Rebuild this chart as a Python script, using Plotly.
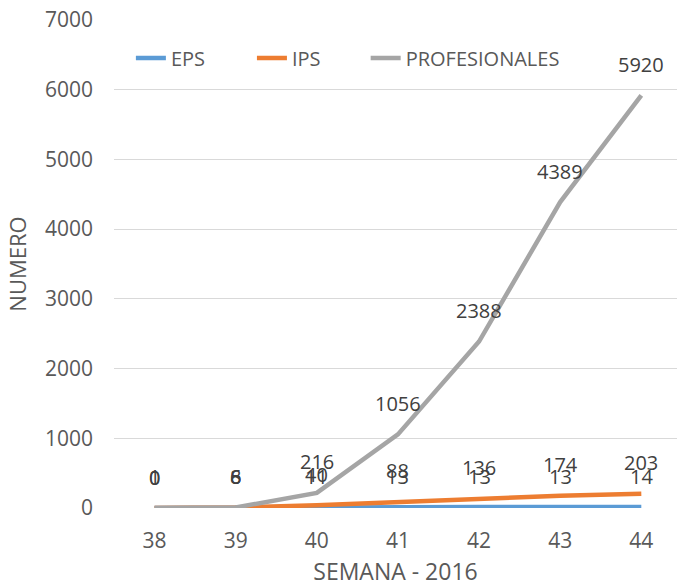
import plotly.graph_objects as go

weeks = ["38", "39", "40", "41", "42", "43", "44"]
eps = [0, 6, 11, 13, 13, 13, 14]
ips = [0, 6, 40, 88, 136, 174, 203]
prof = [1, 8, 216, 1056, 2388, 4389, 5920]
series_names = ["EPS", "IPS", "PROFESIONALES"]
series_colors = ["#5B9BD5", "#ED7D31", "#A5A5A5"]
y_ticks = [0, 1000, 2000, 3000, 4000, 5000, 6000, 7000]

FONT = "Open Sans"
legend_ids = ["legend", "legend2", "legend3"]
legend_x = [0.03, 0.245, 0.447]

fig = go.Figure()
for name, vals, col, lg in zip(series_names, [eps, ips, prof], series_colors, legend_ids):
    fig.add_trace(go.Scatter(x=weeks, y=vals, mode="lines", name=name, legend=lg,
                             line=dict(color=col, width=4.5)))
for vals in [eps, ips, prof]:
    for i, v in enumerate(vals):
        fig.add_annotation(x=i, y=v, text=str(v), showarrow=False,
                           yshift=31, font=dict(size=20, color="#404040", family=FONT))

legend_style = dict(orientation="h", y=0.922, xanchor="left", yanchor="middle",
                    font=dict(size=20, color="#595959"), bgcolor="rgba(0,0,0,0)")
legends = {lg: dict(x=lx, **legend_style) for lg, lx in zip(legend_ids, legend_x)}

fig.update_layout(
    width=677, height=587,
    margin=dict(l=114, r=0, t=20, b=79),
    paper_bgcolor="white", plot_bgcolor="white",
    font=dict(family=FONT, color="#595959", size=20),
    showlegend=True,
    **legends,
    xaxis=dict(type="category", range=[-0.5, 6.44], showgrid=False,
               showline=False, zeroline=False, ticks="", automargin=False,
               ticklabelstandoff=18,
               title=dict(text="SEMANA - 2016", font=dict(size=23, color="#595959"), standoff=24),
               tickfont=dict(size=21, color="#595959")),
    yaxis=dict(range=[0, 7000], tickvals=y_ticks, showgrid=True, gridcolor="#D9D9D9",
               gridwidth=1, zeroline=False, showline=False, ticks="", automargin=False,
               ticklabelstandoff=20,
               title=dict(text="NUMERO", font=dict(size=22, color="#595959"), standoff=12),
               tickfont=dict(size=21, color="#595959")),
)
fig.write_html("out.html", post_script="document.body.style.margin='0';",
               config={"displayModeBar": False})
